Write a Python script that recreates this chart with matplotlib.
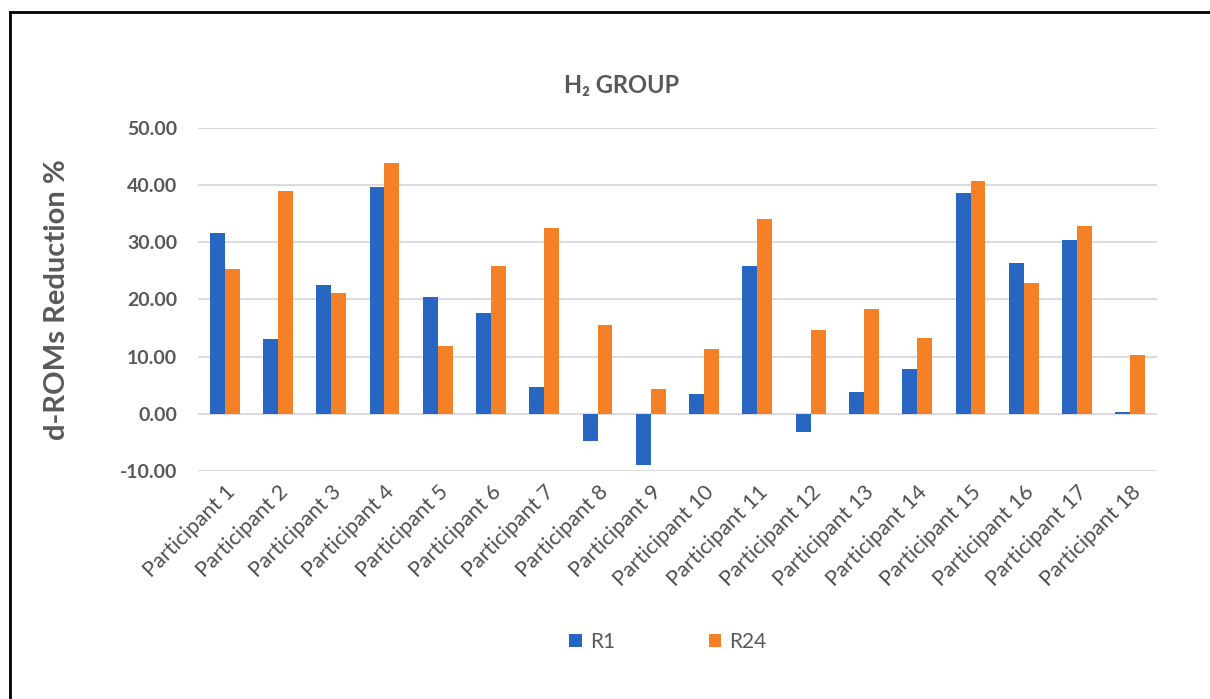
import numpy as np
import matplotlib.pyplot as plt
from matplotlib.lines import Line2D

# Reducción de d-ROMs por participante (grupo H2)
participantes = [f"Participant {i}" for i in range(1, 19)]
r1 = [31.6, 13.1, 22.6, 39.6, 20.4, 17.6, 4.7, -4.8, -8.9,
      3.4, 25.8, -3.2, 3.9, 7.8, 38.7, 26.4, 30.4, 0.35]
r24 = [25.4, 39.0, 21.2, 43.8, 11.8, 25.9, 32.5, 15.6, 4.4,
       11.4, 34.1, 14.7, 18.4, 13.2, 40.8, 22.9, 32.8, 10.3]
ticks_y = [-10, 0, 10, 20, 30, 40, 50]

azul = "#2767C2"
naranja = "#F58025"
gris = "#595959"

plt.rcParams['font.family'] = ['Lato', 'DejaVu Sans']

fig = plt.figure(figsize=(12.10, 6.99), dpi=100)
ax = fig.add_axes([0.1636, 0.3262, 0.7926, 0.4907])

x = np.arange(len(participantes))
ancho = 0.28
ax.bar(x - ancho / 2, r1, ancho, color=azul, label="R1", zorder=3)
ax.bar(x + ancho / 2, r24, ancho, color=naranja, label="R24", zorder=3)

ax.set_xlim(-0.5, len(participantes) - 0.5)
ax.set_ylim(-10, 50)
ax.set_yticks(ticks_y)
ax.set_yticklabels([f"{v:.2f}" for v in ticks_y], fontsize=14,
                   fontweight='bold', color=gris)
ax.set_xticks(x)
ax.set_xticklabels(participantes, rotation=45, ha='right',
                   rotation_mode='anchor', fontsize=15.5, color='#505050')
ax.tick_params(axis='both', length=0)
ax.tick_params(axis='y', pad=15)
ax.tick_params(axis='x', pad=8)

ax.grid(axis='y', color='#D9D9D9', linewidth=1.3, zorder=0)
for lado in ax.spines.values():
    lado.set_visible(False)

ax.set_ylabel("d-ROMs Reduction %", fontsize=21, fontweight='bold',
              color=gris, labelpad=36)

fig.text(0.514, 0.877, "H₂ GROUP", ha='center', va='center',
         fontsize=17, fontweight='bold', color=gris)

fig.legend(loc='center', bbox_to_anchor=(0.552, 0.082), ncol=2,
           frameon=False, fontsize=15, handlelength=0.6, handleheight=0.6,
           handletextpad=0.4, columnspacing=4.5, labelcolor=gris)

# marco exterior (solo borde superior e izquierdo visibles)
fig.add_artist(Line2D([10 / 1210, 10 / 1210], [0, 1 - 12 / 699],
                      transform=fig.transFigure, color='black', lw=2))
fig.add_artist(Line2D([10 / 1210, 1], [1 - 12 / 699, 1 - 12 / 699],
                      transform=fig.transFigure, color='black', lw=2))

fig.savefig("out.png", dpi=100)
